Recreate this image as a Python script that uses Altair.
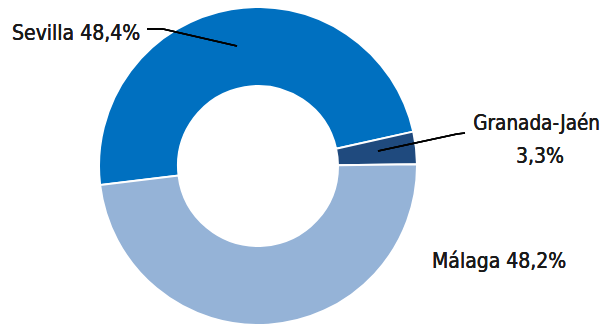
import math
import altair as alt
import pandas as pd

regions = ["Sevilla", "Granada-Jaén", "Málaga"]
shares = [48.4, 3.3, 48.2]
order_idx = [0, 1, 2]
colors = ["#0070C0", "#1F4A7E", "#95B3D7"]

df = pd.DataFrame({"region": regions, "share": shares, "idx": order_idx})

FONT = "DejaVu Sans Condensed, sans-serif"
off = math.radians(263.1)

donut = alt.Chart(df).mark_arc(
    radius=159, radius2=80, stroke="white", strokeWidth=2
).encode(
    theta=alt.Theta("share:Q", stack=True,
                    scale=alt.Scale(range=[off, off + 2 * math.pi])),
    order=alt.Order("idx:Q"),
    color=alt.Color("region:N", scale=alt.Scale(domain=regions, range=colors),
                    legend=None),
    x=alt.value(250),
    y=alt.value(158),
)

def seg(x1, y1, x2, y2):
    return alt.Chart(df).mark_rule(color="black", strokeWidth=1.6).encode(
        x=alt.value(x1), y=alt.value(y1), x2=alt.value(x2), y2=alt.value(y2)
    )

def label(txt, x, y, align="left", size=21):
    return alt.Chart(df).mark_text(
        text=txt, font=FONT, fontSize=size, color="#1a1a1a", align=align,
        baseline="alphabetic"
    ).encode(x=alt.value(x), y=alt.value(y))

lines = [
    seg(139, 21, 155, 21), seg(155, 21, 229, 38),
    seg(457, 125, 449, 126), seg(449, 126, 370, 143),
]

texts = [
    label("Sevilla 48,4%", 4, 32),
    label("Granada-Jaén", 592, 122, "right", 20.5),
    label("3,3%", 532, 155, "center"),
    label("Málaga 48,2%", 424, 260),
]

chart = alt.layer(donut, *lines, *texts).properties(
    width=593, height=317, padding=0,
    autosize=alt.AutoSizeParams(type="none"),
).configure_view(strokeWidth=0)

chart.save("out.html", embed_options={"renderer": "svg", "actions": False})
